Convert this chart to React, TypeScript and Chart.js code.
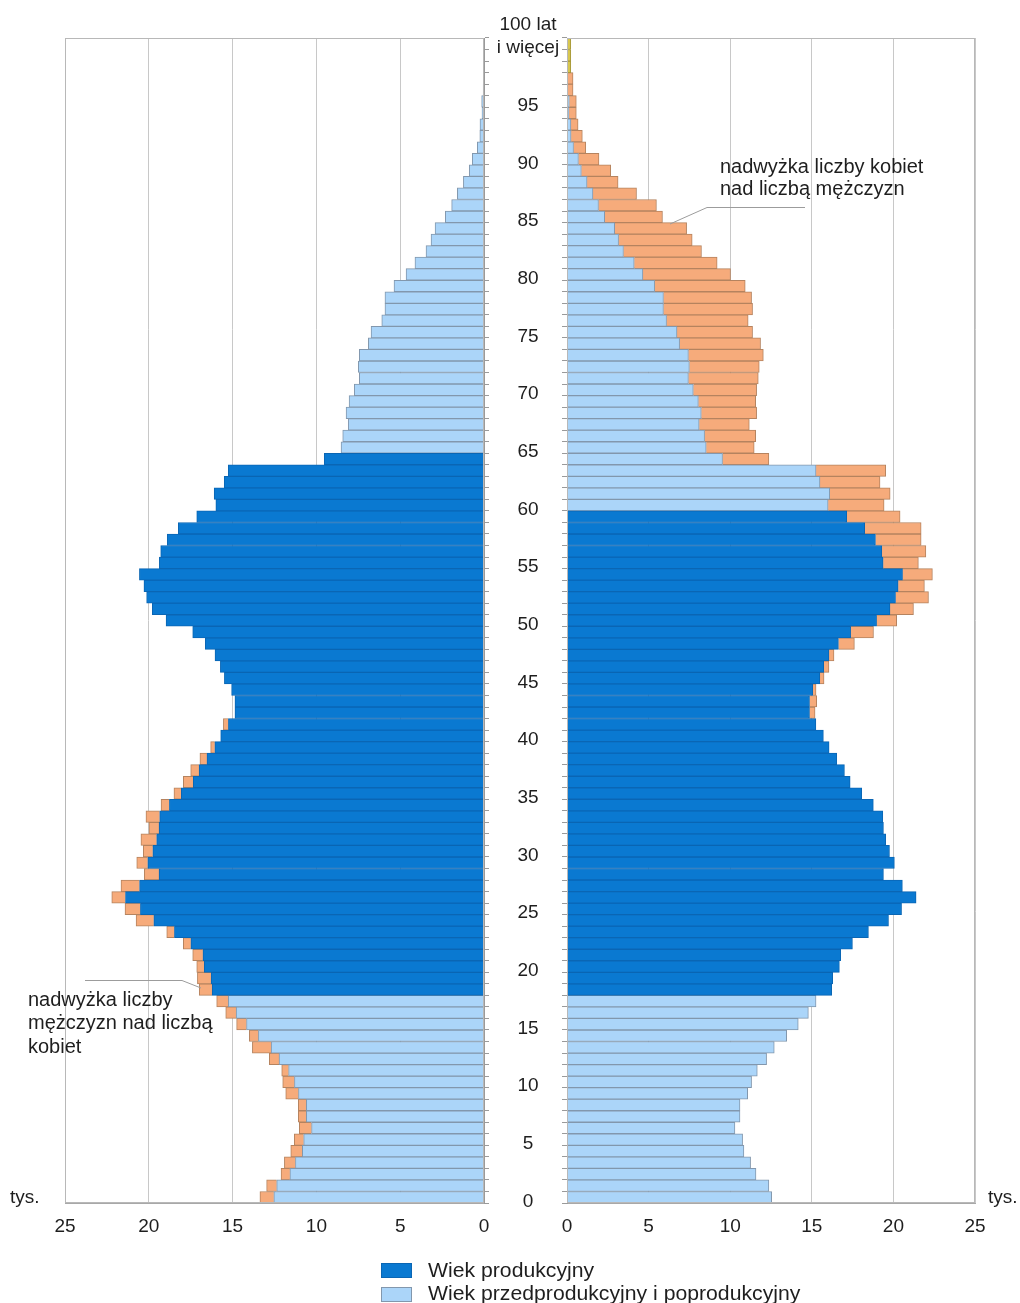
import React, { useEffect, useRef } from 'react';
import { Chart, registerables } from 'chart.js';

Chart.register(...registerables);

const FONT = '"Liberation Sans", Arial, Helvetica, sans-serif';

// ---- data (thousands of people, by single year of age) ----
const AGES = Array.from({ length: 101 }, (_, i) => i);

const MEN = [
  13.37, 12.97, 12.11, 11.91, 11.53, 11.32, 11.02, 11.08, 11.08, 11.83,
  12.01, 12.07, 12.81, 13.82, 14.0, 14.76, 15.41, 15.95, 16.99, 17.1,
  17.14, 17.38, 17.94, 18.93, 20.76, 21.42, 22.21, 21.66, 20.27, 20.72,
  20.33, 20.47, 19.99, 20.17, 19.27, 18.5, 17.94, 17.5, 16.95, 16.31,
  15.71, 15.55, 14.86, 14.86, 15.06, 15.49, 15.73, 16.05, 16.63, 17.38,
  18.97, 19.79, 20.13, 20.29, 20.56, 19.37, 19.29, 18.9, 18.24, 17.14,
  16.0, 16.1, 15.5, 15.26, 9.53, 8.53, 8.43, 8.1, 8.23, 8.05,
  7.74, 7.44, 7.5, 7.44, 6.9, 6.74, 6.1, 5.91, 5.91, 5.37,
  4.65, 4.12, 3.46, 3.16, 2.92, 2.31, 1.93, 1.59, 1.23, 0.88,
  0.7, 0.4, 0.25, 0.24, 0.12, 0.14, 0.05, 0.04, 0.03, 0.02,
  0.02,
];

const WOMEN = [
  12.54, 12.37, 11.58, 11.25, 10.84, 10.76, 10.29, 10.6, 10.6, 11.07,
  11.31, 11.66, 12.23, 12.7, 13.46, 14.17, 14.79, 15.26, 16.22, 16.28,
  16.69, 16.77, 17.49, 18.47, 19.7, 20.5, 21.39, 20.55, 19.39, 20.06,
  19.76, 19.53, 19.39, 19.35, 18.77, 18.06, 17.35, 17.0, 16.53, 16.06,
  15.71, 15.25, 15.2, 15.3, 15.26, 15.75, 16.05, 16.36, 17.61, 18.78,
  20.2, 21.23, 22.15, 21.9, 22.39, 21.53, 21.99, 21.7, 21.7, 20.41,
  19.43, 19.8, 19.18, 19.53, 12.37, 11.47, 11.56, 11.17, 11.62, 11.56,
  11.62, 11.72, 11.78, 12.03, 11.86, 11.37, 11.1, 11.37, 11.31, 10.92,
  10.02, 9.2, 8.24, 7.67, 7.33, 5.85, 5.48, 4.26, 3.13, 2.68,
  1.96, 1.15, 0.94, 0.68, 0.57, 0.57, 0.37, 0.37, 0.23, 0.23,
  0.23,
];

const MEN_PRODUCTIVE = [18, 64];
const WOMEN_PRODUCTIVE = [18, 59];
const OLDEST_GROUP_FROM = 98;

const X_TICKS = [0, 5, 10, 15, 20, 25];
const CENTER_TICK_AGES = [0, 5, 10, 15, 20, 25, 30, 35, 40, 45, 50, 55, 60, 65, 70, 75, 80, 85, 90, 95, 100];
const CENTER_TICK_TEXT = [
  '0', '5', '10', '15', '20', '25', '30', '35', '40', '45', '50',
  '55', '60', '65', '70', '75', '80', '85', '90', '95', '100 lat\ni więcej',
];

const LEGEND_LABELS = ['Wiek produkcyjny', 'Wiek przedprodukcyjny i poprodukcyjny'];

// ---- styles ----
const DARK = '#0a79d1';
const DARK_BORDER = '#0a66b4';
const LIGHT = '#abd5f9';
const LIGHT_BORDER = '#8297ad';
const ORANGE = '#f6ab7b';
const ORANGE_BORDER = '#b5835f';
const YELLOW = '#d8c74e';
const YELLOW_BORDER = '#a8993a';
const GRID = '#c8c8c8';
const TEXT = '#1e1e1e';

const CANVAS_H = 1250;

const framePlugin = {
  id: 'frame',
  afterDraw(chart: any) {
    const { ctx, chartArea: a } = chart;
    ctx.save();
    ctx.strokeStyle = '#b8b8b8';
    ctx.lineWidth = 1;
    const l = Math.round(a.left) + 0.5;
    const t = Math.round(a.top) + 0.5;
    const r = Math.round(a.right) - 0.5;
    const b = Math.round(a.bottom) - 0.5;
    ctx.strokeRect(l, t, r - l, b - t);
    ctx.restore();
  },
};

const centerLabelsPlugin = {
  id: 'centerLabels',
  afterDraw(chart: any) {
    const { ctx } = chart;
    const y = chart.scales.y;
    const rowH = Math.abs(y.getPixelForValue(0) - y.getPixelForValue(1));
    ctx.save();
    ctx.font = `19px ${FONT}`;
    ctx.fillStyle = TEXT;
    ctx.textAlign = 'center';
    ctx.textBaseline = 'middle';
    const cx = 38;
    CENTER_TICK_AGES.forEach((age, i) => {
      const py = y.getPixelForValue(age) + rowH / 2 - 1.5;
      const lines = CENTER_TICK_TEXT[i].split('\n');
      lines.forEach((ln, k) => {
        ctx.fillText(ln, cx, py - (lines.length - 1 - k) * 23);
      });
    });
    ctx.restore();
  },
};

function buildConfig(side: 'left' | 'right') {
  const own = side === 'left' ? MEN : WOMEN;
  const other = side === 'left' ? WOMEN : MEN;
  const [p0, p1] = side === 'left' ? MEN_PRODUCTIVE : WOMEN_PRODUCTIVE;
  const common = own.map((v, i) => Math.min(v, other[i]));
  const isProd = (i: number) => i >= p0 && i <= p1;
  const prod = common.map((v, i) => (isProd(i) ? v : null));
  const nonprod = common.map((v, i) => (isProd(i) ? null : v));
  const surplus = own.map((v, i) => (v > other[i] ? +(v - other[i]).toFixed(2) : null));

  const barCommon = {
    barPercentage: 1,
    categoryPercentage: 1,
    borderWidth: 1,
    borderSkipped: 'start',
  };

  return {
    type: 'bar',
    data: {
      labels: AGES.map(String),
      datasets: [
        { ...barCommon, label: LEGEND_LABELS[0], data: prod, backgroundColor: DARK, borderColor: DARK_BORDER },
        { ...barCommon, label: LEGEND_LABELS[1], data: nonprod, backgroundColor: LIGHT, borderColor: LIGHT_BORDER },
        {
          ...barCommon,
          label: 'surplus',
          data: surplus,
          backgroundColor: (c: any) => (side === 'right' && c.dataIndex >= OLDEST_GROUP_FROM ? YELLOW : ORANGE),
          borderColor: (c: any) => (side === 'right' && c.dataIndex >= OLDEST_GROUP_FROM ? YELLOW_BORDER : ORANGE_BORDER),
        },
      ],
    },
    options: {
      indexAxis: 'y',
      animation: false,
      responsive: false,
      maintainAspectRatio: false,
      events: [],
      layout: {
        padding: side === 'left'
          ? { left: 65, right: 0, top: 38, bottom: 0 }
          : { left: 69, right: 45, top: 38, bottom: 0 },
      },
      plugins: { legend: { display: false }, tooltip: { enabled: false } },
      scales: {
        x: {
          type: 'linear',
          stacked: true,
          min: 0,
          max: 25,
          reverse: side === 'left',
          position: 'bottom',
          afterBuildTicks: (s: any) => {
            s.ticks = X_TICKS.map((v) => ({ value: v }));
          },
          afterFit: (s: any) => {
            s.height = CANVAS_H - 1203;
          },
          ticks: {
            font: { size: 19, family: FONT },
            color: TEXT,
            padding: 12,
            maxRotation: 0,
            autoSkip: false,
          },
          grid: { color: GRID, drawTicks: false, lineWidth: 1 },
          border: { color: '#a8a8a8' },
        },
        y: {
          type: 'category',
          stacked: true,
          reverse: true,
          position: side === 'left' ? 'right' : 'left',
          afterFit: (s: any) => {
            s.width = side === 'left' ? 16 : 8;
          },
          ticks: { display: false },
          grid: {
            drawOnChartArea: false,
            drawTicks: true,
            tickLength: 5,
            color: '#9a9a9a',
            offset: true,
          },
          border: { display: true, color: '#9a9a9a' },
        },
      },
    },
    plugins: side === 'right' ? [framePlugin, centerLabelsPlugin] : [framePlugin],
  } as any;
}

function PyramidSide({ side, left, width }: { side: 'left' | 'right'; left: number; width: number }) {
  const ref = useRef<HTMLCanvasElement>(null);
  useEffect(() => {
    if (!ref.current) return;
    const chart = new Chart(ref.current, buildConfig(side));
    return () => chart.destroy();
  }, [side]);
  return (
    <canvas
      ref={ref}
      width={width}
      height={CANVAS_H}
      style={{ position: 'absolute', left, top: 0, width, height: CANVAS_H }}
    />
  );
}

const textStyle: React.CSSProperties = {
  position: 'absolute',
  fontFamily: FONT,
  color: TEXT,
  whiteSpace: 'nowrap',
};

export default function App() {
  return (
    <div
      style={{
        position: 'absolute',
        left: 0,
        top: 0,
        width: 1020,
        height: 1303,
        overflow: 'hidden',
        background: '#ffffff',
      }}
    >
      <PyramidSide side="left" left={0} width={500} />
      <PyramidSide side="right" left={490} width={530} />

      <svg
        width={1020}
        height={1303}
        style={{ position: 'absolute', left: 0, top: 0, pointerEvents: 'none' }}
      >
        <polyline points="670,224 707,207.5 805,207.5" fill="none" stroke="#9c9c9c" strokeWidth={1} />
        <polyline points="85,980.5 182,980.5 201,988" fill="none" stroke="#9c9c9c" strokeWidth={1} />
      </svg>

      <div style={{ ...textStyle, left: 10, top: 1186, fontSize: 19, lineHeight: '22px' }}>tys.</div>
      <div style={{ ...textStyle, left: 988, top: 1186, fontSize: 19, lineHeight: '22px' }}>tys.</div>

      <div style={{ ...textStyle, left: 720, top: 155, fontSize: 20, lineHeight: '22px' }}>
        nadwyżka liczby kobiet
        <br />
        nad liczbą mężczyzn
      </div>
      <div style={{ ...textStyle, left: 28, top: 988, fontSize: 20, lineHeight: '23.3px' }}>
        nadwyżka liczby
        <br />
        mężczyzn nad liczbą
        <br />
        kobiet
      </div>

      <div
        style={{
          position: 'absolute',
          left: 381,
          top: 1263,
          width: 31,
          height: 15,
          background: DARK,
          boxSizing: 'border-box',
          border: `1px solid ${DARK_BORDER}`,
        }}
      />
      <div
        style={{
          ...textStyle,
          left: 428,
          top: 1259,
          fontSize: 20,
          lineHeight: '22px',
          transform: 'scaleX(1.06)',
          transformOrigin: 'left center',
        }}
      >
        {LEGEND_LABELS[0]}
      </div>
      <div
        style={{
          position: 'absolute',
          left: 381,
          top: 1287,
          width: 31,
          height: 15,
          background: LIGHT,
          boxSizing: 'border-box',
          border: `1px solid ${LIGHT_BORDER}`,
        }}
      />
      <div
        style={{
          ...textStyle,
          left: 428,
          top: 1282,
          fontSize: 20,
          lineHeight: '22px',
          transform: 'scaleX(1.06)',
          transformOrigin: 'left center',
        }}
      >
        {LEGEND_LABELS[1]}
      </div>
    </div>
  );
}
